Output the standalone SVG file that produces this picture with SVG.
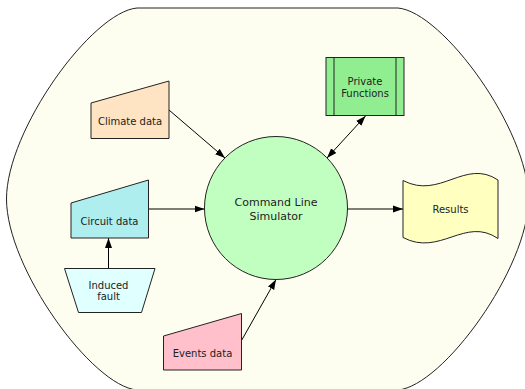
<svg xmlns="http://www.w3.org/2000/svg" width="525" height="389" viewBox="0 0 525 389">
<style>
  .shape { stroke: #222; stroke-width: 1; }
  .lbl { font-family: "DejaVu Sans", sans-serif; font-size: 10px; fill: #222; text-anchor: middle; }
  .big { font-size: 11px; }
  .edge { stroke: #000; stroke-width: 1; fill: none; marker-end: url(#arr); }
</style>
<defs>
  <marker id="arr" markerUnits="userSpaceOnUse" markerWidth="10" markerHeight="8" refX="10" refY="3.5" orient="auto-start-reverse" viewBox="0 0 10 7">
    <path d="M0,0 L10,3.5 L0,7 Z" fill="#000"/>
  </marker>
</defs>
<rect width="525" height="389" fill="#ffffff"/>
<g id="boundary">
  <path class="shape" fill="#fefef0" d="M137,8 L398,8 C443,12 528.5,130 528.5,199 C528.5,268 443,386 398,390 L137,390 C92,386 6.5,268 6.5,199 C6.5,130 92,12 137,8 Z"/>
</g>
<g id="connectors">
  <line class="edge" x1="169" y1="110" x2="225" y2="158"/>
  <line class="edge" x1="365.5" y1="116" x2="327" y2="158" style="marker-start:url(#arr)"/>
  <line class="edge" x1="148.5" y1="209" x2="204.5" y2="209"/>
  <line class="edge" x1="347.5" y1="209" x2="403" y2="209"/>
  <line class="edge" x1="108.5" y1="268.5" x2="108.5" y2="238"/>
  <line class="edge" x1="241.5" y1="340.5" x2="276" y2="279.5"/>
</g>
<g id="climate">
  <polygon class="shape" fill="#ffe4c4" points="91,103 169,81 169,138.5 91,138.5"/>
  <text class="lbl" x="130" y="124.5">Climate data</text>
</g>
<g id="private">
  <rect class="shape" fill="#90ee90" x="326" y="57.5" width="78" height="58"/>
  <line class="shape" x1="334" y1="57.5" x2="334" y2="115.5"/>
  <line class="shape" x1="396" y1="57.5" x2="396" y2="115.5"/>
  <text class="lbl" x="365" y="84.5">Private</text>
  <text class="lbl" x="365" y="96.5">Functions</text>
</g>
<g id="simulator">
  <circle class="shape" fill="#c1ffc1" cx="276" cy="208" r="71.5"/>
  <text class="lbl big" x="276" y="206">Command Line</text>
  <text class="lbl big" x="276" y="219.5">Simulator</text>
</g>
<g id="circuit">
  <polygon class="shape" fill="#afeeee" points="71,203 148.5,180 148.5,238 71,238"/>
  <text class="lbl" x="109.5" y="224.5">Circuit data</text>
</g>
<g id="results">
  <path class="shape" fill="#ffffc0" d="M403,180.5 C440,200 465,158 498,180 L498,238.5 C465,216 440,257 403,237.5 Z"/>
  <text class="lbl" x="450.5" y="213">Results</text>
</g>
<g id="induced">
  <polygon class="shape" fill="#e0ffff" points="64.5,268.5 155,268.5 141.5,312.5 78.5,312.5"/>
  <text class="lbl" x="108.5" y="288.5">Induced</text>
  <text class="lbl" x="108.5" y="300">fault</text>
</g>
<g id="events">
  <polygon class="shape" fill="#ffc0cb" points="163.5,336 241.5,313.5 241.5,370 163.5,370"/>
  <text class="lbl" x="202.5" y="357">Events data</text>
</g>
</svg>
